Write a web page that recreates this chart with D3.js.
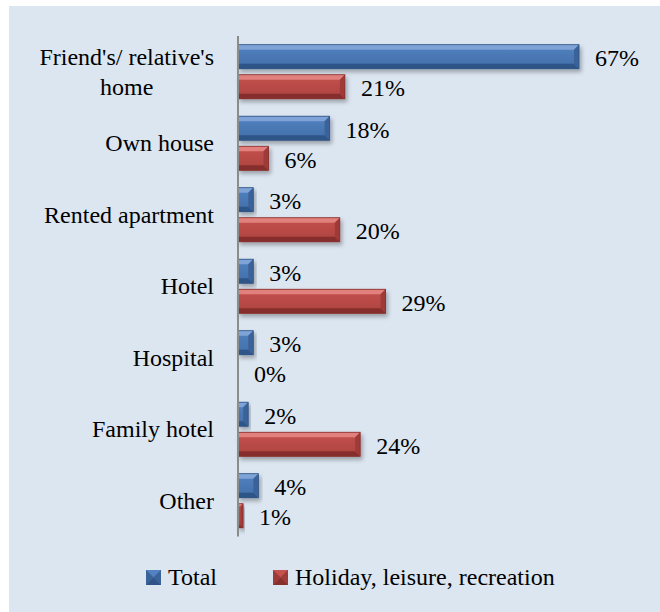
<!DOCTYPE html>
<html><head><meta charset="utf-8">
<script src="https://cdn.jsdelivr.net/npm/d3@7"></script>
</head>
<body style="margin:0">
<svg id="chart" width="660" height="612"></svg>
<script>
const categories = ["Friend's/ relative's home","Own house","Rented apartment","Hotel","Hospital","Family hotel","Other"];
const categoryLines = [["Friend's/ relative's","home"],["Own house"],["Rented apartment"],["Hotel"],["Hospital"],["Family hotel"],["Other"]];
const seriesNames = ["Total","Holiday, leisure, recreation"];
const totalValues = [67,18,3,3,3,2,4];
const holidayValues = [21,6,20,29,0,24,1];

const FONT = "Liberation Serif";
const FS = 24;

const palettes = {
  "Total": {top:"#7fa3d6", mid1:"#5282c0", mid2:"#416ea8", bot:"#2f5587", side:"#3a6399", edge:"#2e5283"},
  "Holiday, leisure, recreation": {top:"#e2807d", mid1:"#c5524e", mid2:"#ac423f", bot:"#862f2d", side:"#9e3b38", edge:"#842e2c"}
};

const svg = d3.select("#chart");
svg.append("rect").attr("x",9).attr("y",6).attr("width",651).attr("height",606).attr("fill","#dce6f1");

const defs = svg.append("defs");
const f = defs.append("filter").attr("id","sh").attr("x","-20%").attr("y","-50%").attr("width","140%").attr("height","220%");
f.append("feDropShadow").attr("dx",2).attr("dy",3).attr("stdDeviation",2.2).attr("flood-color","#000").attr("flood-opacity",0.3);
seriesNames.forEach((s,i)=>{
  const p = palettes[s];
  const g = defs.append("linearGradient").attr("id","g"+i).attr("x1",0).attr("y1",0).attr("x2",0).attr("y2",1);
  g.append("stop").attr("offset","0%").attr("stop-color",p.mid1);
  g.append("stop").attr("offset","100%").attr("stop-color",p.mid2);
});

const x = d3.scaleLinear().domain([0,70]).range([238,238+70*5.09]);
const y = d3.scaleBand().domain(categories).range([36,536.5]);
const y1 = d3.scaleBand().domain(seriesNames).range([0,y.bandwidth()]).paddingInner(0.2).paddingOuter(0.29);

const data = [];
categories.forEach((c,i)=>{
  data.push({cat:c, s:seriesNames[0], si:0, v:totalValues[i]});
  data.push({cat:c, s:seriesNames[1], si:1, v:holidayValues[i]});
});

function bevelBar(g, d){
  const p = palettes[d.s];
  const x0 = x(0), x1 = x(d.v);
  const y0 = y(d.cat)+y1(d.s), h = y1.bandwidth(), yb = y0+h;
  const w = x1-x0;
  if (w <= 0) return;
  const b = Math.min(5, w/2);
  const bg = g.append("g").attr("filter","url(#sh)");
  bg.append("rect").attr("x",x0).attr("y",y0).attr("width",w).attr("height",h).attr("fill","url(#g"+d.si+")");
  bg.append("polygon").attr("points",[[x0,y0],[x1,y0],[x1-b,y0+b],[x0,y0+b]].join(" ")).attr("fill",p.top);
  bg.append("polygon").attr("points",[[x0,yb-b],[x1-b,yb-b],[x1,yb],[x0,yb]].join(" ")).attr("fill",p.bot);
  bg.append("polygon").attr("points",[[x1-b,y0+b],[x1,y0],[x1,yb],[x1-b,yb-b]].join(" ")).attr("fill",p.side);
  bg.append("rect").attr("x",x0).attr("y",y0).attr("width",w).attr("height",h).attr("fill","none").attr("stroke",p.edge).attr("stroke-width",0.8);
}

const barsG = svg.append("g");
data.forEach(d=>bevelBar(barsG,d));

// value labels
svg.append("g").selectAll("text").data(data).join("text")
  .attr("x",d=>x(d.v)+16)
  .attr("y",d=>y(d.cat)+y1(d.s)+y1.bandwidth()/2)
  .attr("dy","0.40em")
  .attr("font-size",FS)
  .style("font-family",`"${FONT}"`)
  .text(d=>d.v+"%");

// axis line
svg.append("line").attr("x1",x(0)).attr("x2",x(0)).attr("y1",y.range()[0]).attr("y2",y.range()[1])
  .attr("stroke","#8c8c8c").attr("stroke-width",2);

// category labels (right aligned block, centered lines)
const labG = svg.append("g");
categories.forEach((c,i)=>{
  const lines = categoryLines[i];
  const cy = y(c)+y.bandwidth()/2;
  const lh = 30;
  const tg = labG.append("g");
  const texts = lines.map((ln,j)=> tg.append("text")
      .attr("y", cy + (j-(lines.length-1)/2)*lh)
      .attr("dy","0.33em").attr("font-size",FS).style("font-family",`"${FONT}"`)
      .attr("text-anchor","middle").text(ln));
  const widths = texts.map(t=>t.node().getComputedTextLength());
  const maxW = d3.max(widths);
  const cx = 214 - maxW/2;
  texts.forEach(t=>t.attr("x",cx));
});

// legend
const leg = svg.append("g");
const legendX = [146, 273];
seriesNames.forEach((s,i)=>{
  const p = palettes[s];
  const lx = legendX[i], ly = 570, sz = 15;
  leg.append("rect").attr("x",lx).attr("y",ly).attr("width",sz).attr("height",sz).attr("fill",p.mid2);
  leg.append("polygon").attr("points",[[lx,ly],[lx+sz,ly],[lx+sz/2,ly+sz/2]].join(" ")).attr("fill",p.mid1);
  leg.append("polygon").attr("points",[[lx,ly+sz],[lx+sz,ly+sz],[lx+sz/2,ly+sz/2]].join(" ")).attr("fill",p.bot);
  leg.append("polygon").attr("points",[[lx,ly],[lx+sz/2,ly+sz/2],[lx,ly+sz]].join(" ")).attr("fill",p.side);
  leg.append("polygon").attr("points",[[lx+sz,ly],[lx+sz/2,ly+sz/2],[lx+sz,ly+sz]].join(" ")).attr("fill",p.side);
  leg.append("text").attr("x",lx+sz+7).attr("y",ly+sz/2).attr("dy","0.31em")
    .attr("font-size",FS).style("font-family",`"${FONT}"`).text(s);
});
</script>
</body></html>
